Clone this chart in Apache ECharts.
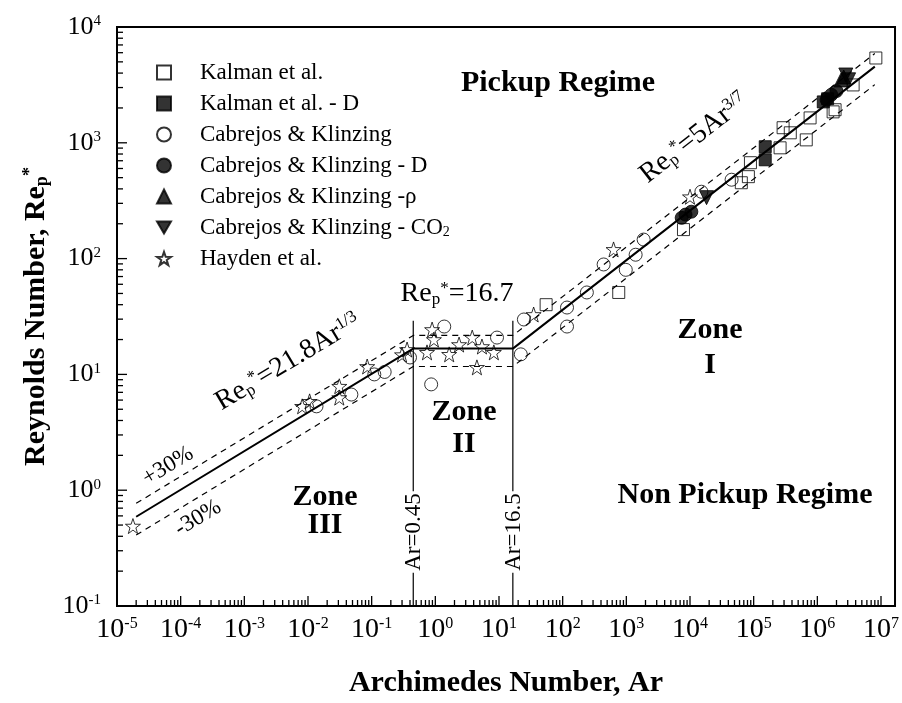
<!DOCTYPE html>
<html><head><meta charset="utf-8">
<script src="https://cdn.jsdelivr.net/npm/echarts@6/dist/echarts.min.js"></script>
<style>html,body{margin:0;padding:0;background:#fff}#c{width:902px;height:703px}</style>
</head><body><div id="c"></div>
<script>
const FONT = '"Liberation Serif","Times New Roman",serif';

// ---- data (Ar, Re_p*) ----
const kalmanAr = [55, 760, 7900, 64000, 82600, 89000, 2.6e5, 2.9e5, 3.76e5, 6.7e5, 7.7e5, 1.77e6, 1.9e6, 3.65e6, 8.3e6];
const kalmanRe = [40, 51, 178, 452, 510, 673, 905, 1350, 1220, 1060, 1640, 1850, 1930, 3160, 5400];
const kalmanDAr = [1.52e5, 1.52e5, 1.24e6, 1.45e6];
const kalmanDRe = [925, 713, 2255, 2400];
const cabAr = [0.0136, 0.048, 0.11, 0.16, 0.40, 0.86, 1.38, 9.3, 22, 24.6, 117, 117, 240, 440, 980, 1400, 1870, 15100, 45000];
const cabRe = [5.3, 6.7, 10, 10.5, 14.0, 8.2, 25.9, 20.8, 14.9, 29.8, 37.8, 25.9, 51, 89, 80, 108, 146, 378, 480];
const cabDAr = [7400, 8500, 10500, 1.4e6, 1.66e6, 2.0e6];
const cabDRe = [225, 240, 254, 2350, 2600, 2800];
const cabRhoAr = [2.36e6, 2.6e6];
const cabRhoRe = [3490, 3700];
const cabCO2Ar = [18200, 2.8e6, 3.1e6];
const cabCO2Re = [336, 3850, 3500];
const haydenAr = [1.78e-5, 8.1e-3, 0.0106, 0.031, 0.031, 0.085, 0.30, 0.36, 0.74, 0.89, 0.95, 1.65, 2.36, 3.8, 5.4, 4.5, 8.3, 35, 630, 10000];
const haydenRe = [0.49, 5.3, 5.85, 6.3, 7.9, 11.7, 14.8, 16.4, 15.5, 24.4, 20, 14.9, 18.1, 20.8, 17.4, 11.5, 15.5, 32.9, 120, 342];

// correlation lines (zone III, II, I) and +/-30 % bands
const fitAr = [2e-5, 0.45, 16.5, 8e6];
const fitRe = [0.59, 16.7, 16.7, 4545];
const upperRe = [0.77, 21.7, 21.7, 5910];
const lowerRe = [0.41, 11.7, 11.7, 3180];
// zone boundaries
const boundaryAr = [0.45, 16.5];
const boundaryRe = [0.1, 29];

// axis tick exponents
const xMajorExp = [-5, -4, -3, -2, -1, 0, 1, 2, 3, 4, 5, 6, 7];
const yMajorExp = [-1, 0, 1, 2, 3, 4];
const X_MIN = 1e-5, X_MAX = 1.66e7, Y_MIN = 0.1, Y_MAX = 1e4;

function pts(xs, ys) { return xs.map((x, i) => [x, ys[i]]); }
function tickList(exps, lo, hi) {
  const out = [];
  exps.forEach(e => {
    out.push([Math.pow(10, e), 1]);
    for (let k = 2; k <= 9; k++) {
      const v = k * Math.pow(10, e);
      if (v > lo && v < hi) out.push([v, 0]);
    }
  });
  return out;
}

const STAR = 'path://M12,0 L14.9,8.6 L24,8.7 L16.7,14.1 L19.4,22.9 L12,17.6 L4.6,22.9 L7.3,14.1 L0,8.7 L9.1,8.6 Z';
const TRI_DOWN = 'path://M0,0 L20,0 L10,17 Z';
const OPEN = { color: 'rgba(255,255,255,0)', borderColor: '#000', borderWidth: 1 };
const FILL = { color: '#000', borderColor: '#000', borderWidth: 1 };

function scatter(name, xs, ys, symbol, size, style) {
  return { name, type: 'scatter', data: pts(xs, ys), symbol, symbolSize: size,
    itemStyle: style, emphasis: { disabled: true }, z: 5 };
}
function line(data, width, type) {
  return { type: 'line', data, symbol: 'none', lineStyle: { color: '#000', width, type },
    emphasis: { disabled: true }, silent: true, z: 3 };
}

function logLabel(v) {
  const e = Math.log10(v);
  const r = Math.round(e);
  if (Math.abs(e - r) > 1e-6) return '';
  return '{b|10}{s|' + r + '}';
}

const serif = { fontFamily: FONT, color: '#000' };
const chart = echarts.init(document.getElementById('c'), null, { renderer: 'canvas' });

const richAnn = (fs) => ({
  n: { fontSize: fs, fontFamily: FONT, fill: '#000' },
  sub: { fontSize: Math.round(fs * 0.6), fontFamily: FONT, verticalAlign: 'bottom', fill: '#000' },
  sup: { fontSize: Math.round(fs * 0.6), fontFamily: FONT, verticalAlign: 'top', fill: '#000' }
});

function gText(x, y, text, opt) {
  opt = opt || {};
  return { type: 'text', x, y, rotation: opt.rot || 0, z: 100,
    style: { text, fontFamily: FONT, fontSize: opt.fs || 28, fontWeight: opt.bold ? 'bold' : 'normal',
      fill: '#000', align: 'center', verticalAlign: 'middle', rich: opt.rich,
      backgroundColor: opt.bg, padding: opt.pad } };
}

const D = Math.PI / 180;

chart.setOption({
  animation: false,
  textStyle: serif,
  grid: { left: 117, right: 5, top: 27, bottom: 96, show: true, borderColor: '#000', borderWidth: 2, containLabel: false },
  legend: {
    left: 151, top: 56, orient: 'vertical', itemWidth: 14, itemHeight: 14, itemGap: 8,
    selectedMode: false,
    textStyle: { fontFamily: FONT, fontSize: 23, color: '#000', padding: [0, 0, 0, 24],
      rich: { sub: { fontFamily: FONT, fontSize: 14, verticalAlign: 'bottom', color: '#000' } } },
    formatter: name => name === 'Cabrejos & Klinzing - CO2' ? 'Cabrejos & Klinzing - CO{sub|2}' : name,
    data: ['Kalman et al.', 'Kalman et al. - D', 'Cabrejos & Klinzing', 'Cabrejos & Klinzing - D',
      'Cabrejos & Klinzing -ρ', 'Cabrejos & Klinzing - CO2', 'Hayden et al.']
  },
  xAxis: {
    type: 'log', logBase: 10, min: X_MIN, max: X_MAX, interval: 1,
    splitLine: { show: false },
    axisLine: { lineStyle: { color: '#000', width: 2 } },
    axisTick: { show: false },
    axisLabel: { formatter: logLabel, margin: 10, color: '#000',
      rich: { b: { fontSize: 28, fontFamily: FONT, color: '#000' }, s: { fontSize: 16, fontFamily: FONT, verticalAlign: 'top', color: '#000' } } },
    name: 'Archimedes Number, Ar', nameLocation: 'middle', nameGap: 62,
    nameTextStyle: { fontFamily: FONT, fontSize: 30, fontWeight: 'bold', color: '#000' }
  },
  yAxis: {
    type: 'log', logBase: 10, min: Y_MIN, max: Y_MAX, interval: 1,
    splitLine: { show: false },
    axisLine: { lineStyle: { color: '#000', width: 2 } },
    axisTick: { show: false },
    axisLabel: { formatter: logLabel, margin: 16, color: '#000',
      rich: { b: { fontSize: 26, fontFamily: FONT, color: '#000' }, s: { fontSize: 15, fontFamily: FONT, verticalAlign: 'top', color: '#000' } } },
    name: 'Reynolds Number, Re{sub|p}{sup|*}', nameLocation: 'middle', nameGap: 58, nameRotate: 90,
    nameTextStyle: { fontFamily: FONT, fontSize: 30, fontWeight: 'bold', color: '#000',
      rich: { sub: { fontSize: 18, fontWeight: 'bold', fontFamily: FONT, verticalAlign: 'bottom', color: '#000' },
              sup: { fontSize: 18, fontWeight: 'bold', fontFamily: FONT, verticalAlign: 'top', color: '#000' } } }
  },
  series: [
    line(pts(fitAr, fitRe), 2, 'solid'),
    line(pts(fitAr, upperRe), 1.2, [6, 5]),
    line(pts(fitAr, lowerRe), 1.2, [6, 5]),
    line(pts([boundaryAr[0], boundaryAr[0]], boundaryRe), 1.2, 'solid'),
    line(pts([boundaryAr[1], boundaryAr[1]], boundaryRe), 1.2, 'solid'),
    scatter('Kalman et al.', kalmanAr, kalmanRe, 'rect', 12, OPEN),
    scatter('Kalman et al. - D', kalmanDAr, kalmanDRe, 'rect', 12, FILL),
    scatter('Cabrejos & Klinzing', cabAr, cabRe, 'circle', 13, OPEN),
    scatter('Cabrejos & Klinzing - D', cabDAr, cabDRe, 'circle', 13, FILL),
    scatter('Cabrejos & Klinzing -ρ', cabRhoAr, cabRhoRe, 'triangle', 14, FILL),
    scatter('Cabrejos & Klinzing - CO2', cabCO2Ar, cabCO2Re, TRI_DOWN, 14, FILL),
    scatter('Hayden et al.', haydenAr, haydenRe, STAR, 15, OPEN),
    { type: 'custom', silent: true, z: 10, data: tickList(xMajorExp, X_MIN, X_MAX),
      renderItem: (p, api) => { const c = api.coord([api.value(0), Y_MIN]); const L = api.value(1) ? 10 : 6;
        return { type: 'line', shape: { x1: c[0], y1: c[1], x2: c[0], y2: c[1] - L }, style: { stroke: '#000', lineWidth: 1.3 } }; } },
    { type: 'custom', silent: true, z: 10, data: tickList(yMajorExp, Y_MIN, Y_MAX).map(d => [X_MIN, d[0], d[1]]),
      encode: { x: 0, y: 1 },
      renderItem: (p, api) => { const c = api.coord([X_MIN, api.value(1)]); const L = api.value(2) ? 10 : 6;
        return { type: 'line', shape: { x1: c[0], y1: c[1], x2: c[0] + L, y2: c[1] }, style: { stroke: '#000', lineWidth: 1.3 } }; } }
  ],
  graphic: [
    gText(558, 83, 'Pickup Regime', { fs: 30, bold: true }),
    gText(745, 495, 'Non Pickup Regime', { fs: 30, bold: true }),
    gText(710, 330, 'Zone', { fs: 30, bold: true }),
    gText(710, 365, 'I', { fs: 30, bold: true }),
    gText(464, 412, 'Zone', { fs: 30, bold: true }),
    gText(464, 444, 'II', { fs: 30, bold: true }),
    gText(325, 497, 'Zone', { fs: 30, bold: true }),
    gText(325, 525, 'III', { fs: 30, bold: true }),
    gText(457, 294, '{n|Re}{sub|p}{sup|*}{n|=16.7}', { rich: richAnn(28) }),
    gText(288, 362, '{n|Re}{sub|p}{sup|*}{n|=21.8Ar}{sup|1/3}', { rich: richAnn(28), rot: 31 * D }),
    gText(694, 138, '{n|Re}{sub|p}{sup|*}{n|=5Ar}{sup|3/7}', { rich: richAnn(28), rot: 38 * D }),
    gText(168, 466, '+30%', { fs: 23, rot: 31 * D }),
    gText(198, 518, '-30%', { fs: 23, rot: 31 * D }),
    gText(414, 532, 'Ar=0.45', { fs: 23, rot: 90 * D, bg: '#fff', pad: [0, 2, 0, 2] }),
    gText(514, 532, 'Ar=16.5', { fs: 23, rot: 90 * D, bg: '#fff', pad: [0, 2, 0, 2] })
  ]
});
</script></body></html>
